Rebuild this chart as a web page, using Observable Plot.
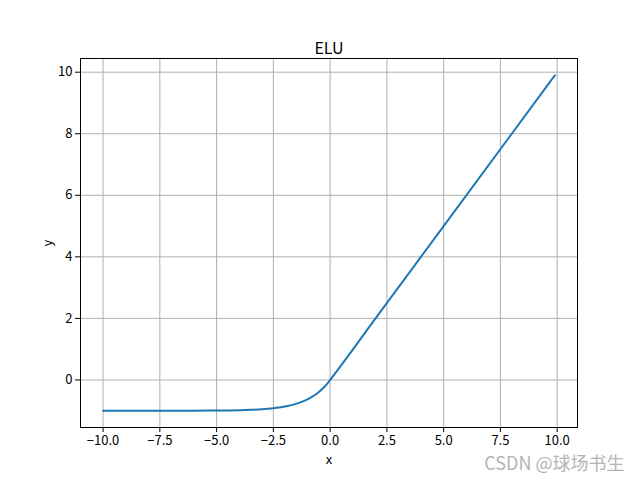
<!DOCTYPE html>
<html>
<head>
<meta charset="utf-8">
<script src="https://cdn.jsdelivr.net/npm/d3@7"></script>
<script src="https://cdn.jsdelivr.net/npm/@observablehq/plot@0.6"></script>
<style>
  html, body { margin: 0; padding: 0; background: #fff; }
  #chart svg { display: block; }
</style>
</head>
<body>
<div id="chart"></div>
<script>
const title = "ELU";
const xLabel = "x";
const yLabel = "y";
const watermark = "CSDN @球场书生";
const xTicks = [-10, -7.5, -5, -2.5, 0, 2.5, 5, 7.5, 10];
const yTicks = [0, 2, 4, 6, 8, 10];
const xValues = [-10, -9, -8, -7, -6, -5, -4.5, -4, -3.5, -3, -2.75, -2.5, -2.25, -2, -1.75, -1.5, -1.25, -1, -0.875, -0.75, -0.625, -0.5, -0.375, -0.25, -0.125, 0, 2, 5, 9.9];
const yValues = [-1.0, -1.0, -1.0, -1.0, -1.0, -0.993, -0.989, -0.982, -0.970, -0.950, -0.936, -0.918, -0.895, -0.865, -0.826, -0.777, -0.713, -0.632, -0.583, -0.528, -0.465, -0.393, -0.313, -0.221, -0.118, 0, 2, 5, 9.9];

const data = xValues.map((x, i) => ({x, y: yValues[i]}));
const fmt = d => (d < 0 ? "\u2212" : "") + Math.abs(d).toFixed(1);
const font = "'Noto Sans CJK SC', sans-serif";

const chart = Plot.plot({
  width: 640,
  height: 480,
  marginLeft: 80,
  marginRight: 63,
  marginTop: 58,
  marginBottom: 53,
  style: {fontFamily: font, fontSize: "13px", color: "#000", background: "#fff"},
  x: {domain: [-10.995, 10.895]},
  y: {domain: [-1.545, 10.445]},
  marks: [
    Plot.ruleX(xTicks, {stroke: "#b0b0b0", strokeWidth: 1, strokeOpacity: 1}),
    Plot.ruleY(yTicks, {stroke: "#b0b0b0", strokeWidth: 1, strokeOpacity: 1}),
    Plot.line(data, {x: "x", y: "y", stroke: "#1f77b4", strokeWidth: 2, curve: "monotone-x"}),
    Plot.frame({stroke: "#000", strokeWidth: 1}),
    Plot.axisX(xTicks, {tickFormat: fmt, tickSize: 5, tickPadding: 3, fontSize: 13, label: xLabel, labelAnchor: "center", labelArrow: "none", labelOffset: 36}),
    Plot.axisY(yTicks, {tickFormat: d => String(d), tickSize: 5, tickPadding: 3, fontSize: 13, label: yLabel, labelAnchor: "center", labelArrow: "none", labelOffset: 38}),
    Plot.text([title], {frameAnchor: "top", dy: -16, fontSize: 16, fill: "#000"}),
    Plot.text([watermark], {frameAnchor: "bottom-right", dx: 47, dy: 42, fontSize: 18, fill: "#b4b4b4", textAnchor: "end"})
  ]
});
document.getElementById("chart").appendChild(chart);
</script>
</body>
</html>
